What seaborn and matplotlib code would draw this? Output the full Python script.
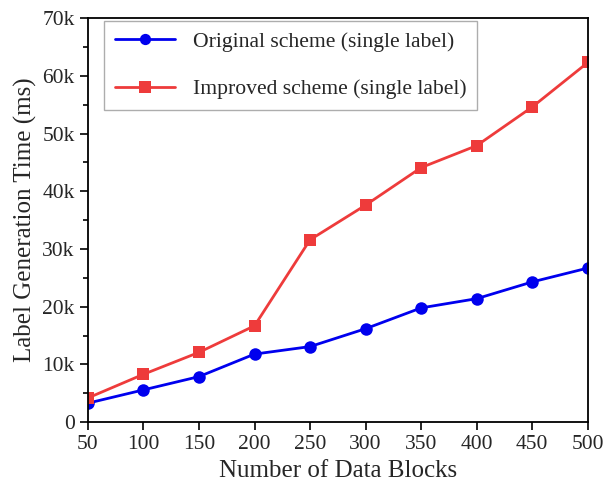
import pandas as pd
import seaborn as sns
import matplotlib.pyplot as plt
from matplotlib.ticker import MultipleLocator, FuncFormatter

blocks = [50, 100, 150, 200, 250, 300, 350, 400, 450, 500]
original = [3300, 5600, 7900, 11800, 13100, 16200, 19800, 21400, 24300, 26700]
improved = [4200, 8300, 12100, 16700, 31600, 37600, 44100, 47900, 54600, 62300]

df = pd.DataFrame({
    "blocks": blocks * 2,
    "time": original + improved,
    "scheme": ["Original scheme (single label)"] * len(blocks) + ["Improved scheme (single label)"] * len(blocks),
})

sns.set_style("ticks")
plt.rcParams["font.family"] = ["Liberation Serif", "DejaVu Serif"]

fig = plt.figure(figsize=(6.06, 4.87), dpi=100)
ax = fig.add_axes([0.145, 0.133, 0.825, 0.830])

sns.lineplot(data=df, x="blocks", y="time", hue="scheme", style="scheme",
             palette=["#0000ee", "#ee3b3b"], markers=["o", "s"], dashes=False,
             markersize=9, linewidth=2, markeredgewidth=0, ax=ax)

ax.set_xlim(50, 500)
ax.set_ylim(0, 70000)
ax.set_xticks(blocks)
ax.yaxis.set_major_locator(MultipleLocator(10000))
ax.yaxis.set_minor_locator(MultipleLocator(5000))
ax.yaxis.set_major_formatter(FuncFormatter(lambda v, p: "0" if v == 0 else f"{int(v/1000)}k"))
ax.tick_params(axis="both", which="major", labelsize=15.5, length=6, width=1.2, direction="out", color="black")
ax.tick_params(axis="y", which="minor", length=3.5, width=1.2, direction="out", color="black")
for s in ax.spines.values():
    s.set_linewidth(1.3)
    s.set_color("black")

ax.set_xlabel("Number of Data Blocks", fontsize=18)
ax.set_ylabel("Label Generation Time (ms)", fontsize=18)

leg = ax.legend(loc="upper left", bbox_to_anchor=(0.032, 0.993), borderaxespad=0,
                fontsize=15.6, frameon=True, fancybox=False, edgecolor="#999999",
                handlelength=2.8, borderpad=0.5, labelspacing=1.25,
                handletextpad=0.8, markerscale=0.9)
leg.get_frame().set_linewidth(1.0)

fig.savefig("out.png", dpi=100)
